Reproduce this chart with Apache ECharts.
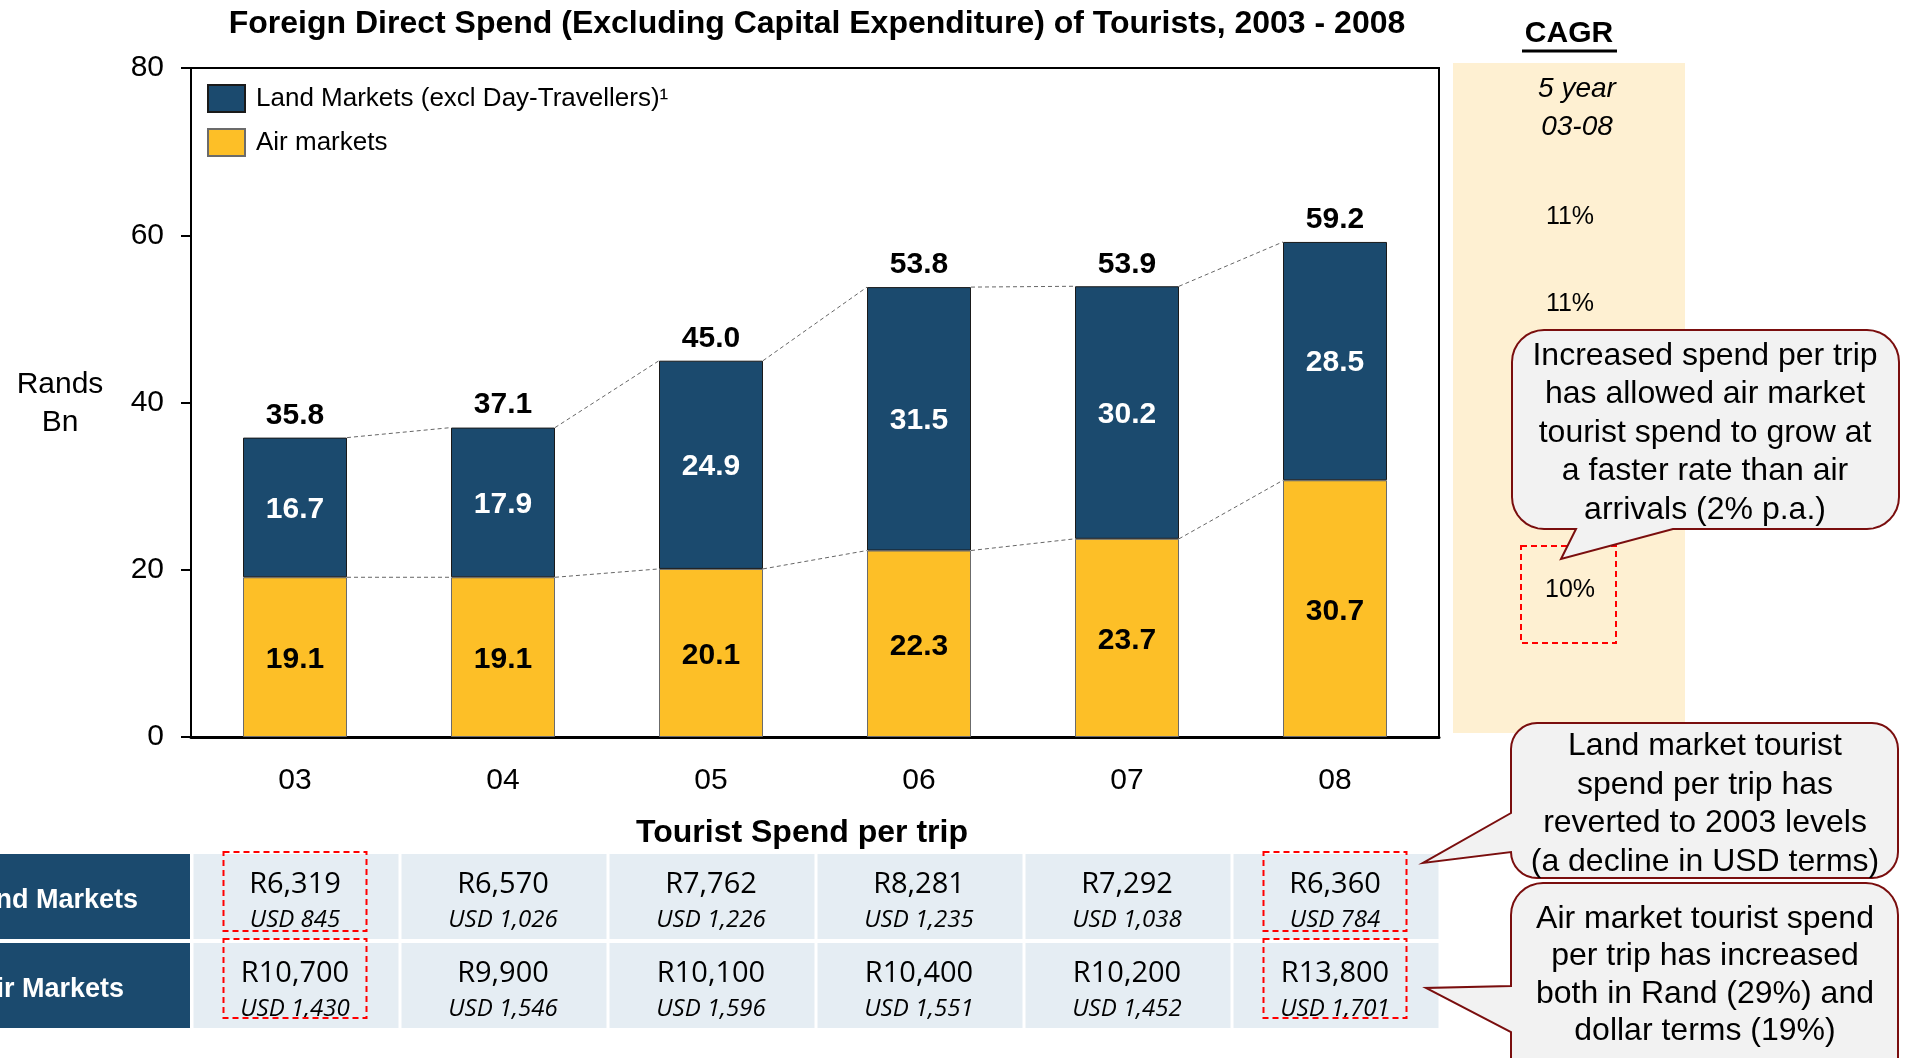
<!DOCTYPE html>
<html>
<head>
<meta charset="utf-8">
<title>Foreign Direct Spend of Tourists</title>
<script src="https://cdn.jsdelivr.net/npm/echarts@6/dist/echarts.min.js"></script>
<style>
  html, body { margin: 0; padding: 0; background: #fff; }
  #chart { width: 1912px; height: 1058px; }
</style>
</head>
<body>
<div id="chart"></div>
<script>
// chart data
const years = ['03', '04', '05', '06', '07', '08'];
const airMarkets = [19.1, 19.1, 20.1, 22.3, 23.7, 30.7];
const landMarkets = [16.7, 17.9, 24.9, 31.5, 30.2, 28.5];
const totals = [35.8, 37.1, 45.0, 53.8, 53.9, 59.2];

// tourist spend per trip table
const landRand = ['R6,319', 'R6,570', 'R7,762', 'R8,281', 'R7,292', 'R6,360'];
const landUsd = ['USD 845', 'USD 1,026', 'USD 1,226', 'USD 1,235', 'USD 1,038', 'USD 784'];
const airRand = ['R10,700', 'R9,900', 'R10,100', 'R10,400', 'R10,200', 'R13,800'];
const airUsd = ['USD 1,430', 'USD 1,546', 'USD 1,596', 'USD 1,551', 'USD 1,452', 'USD 1,701'];

// CAGR column (total, land, air)
const cagr = ['11%', '11%', '10%'];

const BLUE = '#1b4a6e';
const YELLOW = '#fdbf27';
const SANS = '"Liberation Sans", Arial, sans-serif';
const CELL = '"Open Sans", "Liberation Sans", sans-serif';
const LAND_NAME = 'Land Markets (excl Day-Travellers)\u00b9';
const AIR_NAME = 'Air markets';

const chart = echarts.init(document.getElementById('chart'));

const option = {
  animation: false,
  textStyle: { fontFamily: SANS },
  grid: {
    left: 191, top: 68, width: 1248, height: 669,
    show: true, borderColor: '#000', borderWidth: 2, backgroundColor: 'transparent'
  },
  legend: {
    left: 207, top: 84, padding: 0, orient: 'vertical', icon: 'rect',
    itemWidth: 37, itemHeight: 27, itemGap: 15,
    textStyle: { fontSize: 26, color: '#000', padding: [0, 0, 0, 6] },
    data: [LAND_NAME, AIR_NAME]
  },
  xAxis: {
    type: 'category',
    data: years,
    axisLine: { lineStyle: { color: '#000', width: 3 } },
    axisTick: { show: false },
    axisLabel: { fontSize: 30, color: '#000', margin: 29 }
  },
  yAxis: {
    type: 'value', min: 0, max: 80, interval: 20,
    axisLine: { show: true, lineStyle: { color: '#000', width: 2 } },
    axisTick: { show: true, length: 10, lineStyle: { color: '#000', width: 2 } },
    axisLabel: { fontSize: 30, color: '#000', margin: 27 },
    splitLine: { show: false }
  },
  series: [
    {
      name: AIR_NAME, type: 'bar', stack: 'spend', barWidth: '50%',
      itemStyle: { color: YELLOW, borderColor: '#6b6b6b', borderWidth: 1 },
      label: { show: true, position: 'inside', offset: [0, 3], fontSize: 30, fontWeight: 'bold', color: '#000',
        formatter: p => p.value.toFixed(1) },
      data: airMarkets, z: 3
    },
    {
      name: LAND_NAME, type: 'bar', stack: 'spend', barWidth: '50%',
      itemStyle: { color: BLUE, borderColor: '#1a1a1a', borderWidth: 1 },
      label: { show: true, position: 'inside', offset: [0, 2], fontSize: 30, fontWeight: 'bold', color: '#fff',
        formatter: p => p.value.toFixed(1) },
      data: landMarkets, z: 3
    },
    {
      // total above each stack
      type: 'custom', silent: true, z: 4,
      encode: { x: 0, y: 1 },
      data: years.map((y, i) => [i, totals[i]]),
      renderItem: function (params, api) {
        const i = params.dataIndex;
        const p = api.coord([i, totals[i]]);
        return {
          type: 'text',
          style: {
            text: totals[i].toFixed(1), x: p[0], y: p[1] - 22,
            fontSize: 30, fontWeight: 'bold', fontFamily: SANS, fill: '#000',
            align: 'center', verticalAlign: 'middle'
          }
        };
      }
    },
    {
      // dashed connectors between bar corners
      type: 'custom', silent: true, z: 2,
      encode: { x: 0, y: 1 },
      data: years.map((y, i) => [i, airMarkets[i]]),
      renderItem: function (params, api) {
        const i = params.dataIndex;
        if (i >= years.length - 1) return null;
        const bw = api.size([1, 0])[0] * 0.5;
        const pairs = [
          [airMarkets[i], airMarkets[i + 1]],
          [airMarkets[i] + landMarkets[i], airMarkets[i + 1] + landMarkets[i + 1]]
        ];
        return {
          type: 'group',
          children: pairs.map(pr => {
            const a = api.coord([i, pr[0]]);
            const b = api.coord([i + 1, pr[1]]);
            return {
              type: 'line',
              shape: { x1: a[0] + bw / 2, y1: a[1], x2: b[0] - bw / 2, y2: b[1] },
              style: { stroke: '#666', lineWidth: 1, lineDash: [4, 3] }
            };
          })
        };
      }
    }
  ]
};

chart.setOption(option);

// layout pieces built from the category axis positions
const centers = years.map(y => chart.convertToPixel({ xAxisIndex: 0 }, y));
const band = centers[1] - centers[0];

function txt(text, x, y, size, opts) {
  opts = opts || {};
  return {
    type: 'text', z: opts.z || 20,
    style: {
      text: text, x: x, y: y,
      fontSize: size, fontFamily: opts.family || SANS,
      fontWeight: opts.weight || 'normal', fontStyle: opts.style || 'normal',
      fill: opts.color || '#000', align: opts.align || 'center', verticalAlign: 'middle',
      lineHeight: opts.lineHeight
    }
  };
}

// rounded box outline as points; extra points are inserted on the bottom or left edge
function arc(cx, cy, r, a0, a1) {
  const pts = [];
  for (let k = 0; k <= 8; k++) {
    const a = (a0 + (a1 - a0) * k / 8) * Math.PI / 180;
    pts.push([cx + r * Math.cos(a), cy + r * Math.sin(a)]);
  }
  return pts;
}
function callout(x, y, w, h, r, bottomPts, leftPts) {
  let pts = [];
  pts = pts.concat(arc(x + r, y + r, r, 180, 270));
  pts = pts.concat(arc(x + w - r, y + r, r, 270, 360));
  pts = pts.concat(arc(x + w - r, y + h - r, r, 0, 90));
  pts = pts.concat(bottomPts || []);
  pts = pts.concat(arc(x + r, y + h - r, r, 90, 180));
  pts = pts.concat(leftPts || []);
  return {
    type: 'polygon', z: 25, shape: { points: pts },
    style: { fill: '#f2f2f2', stroke: '#7a0e0e', lineWidth: 2 }
  };
}

const g = [];

// title
g.push(txt('Foreign Direct Spend (Excluding Capital Expenditure) of Tourists, 2003 - 2008', 817, 24, 32, { weight: 'bold' }));
g.push(txt('Rands\nBn', 60, 404, 30, { lineHeight: 38 }));

// CAGR panel
g.push({ type: 'rect', z: 1, shape: { x: 1453, y: 63, width: 232, height: 670 }, style: { fill: '#fef0d2' } });
g.push(txt('CAGR', 1569, 34, 30, { weight: 'bold' }));
g.push({ type: 'line', z: 20, shape: { x1: 1522, y1: 51, x2: 1617, y2: 51 }, style: { stroke: '#000', lineWidth: 3 } });
g.push(txt('5 year\n03-08', 1577, 108, 28, { style: 'italic', lineHeight: 38 }));
g.push(txt(cagr[0], 1570, 217, 25));
g.push(txt(cagr[1], 1570, 304, 25));
g.push(txt(cagr[2], 1570, 590, 25));
g.push({ type: 'rect', z: 20, shape: { x: 1521, y: 546, width: 95, height: 97 },
  style: { fill: 'none', stroke: '#ff0000', lineWidth: 2, lineDash: [6, 4] } });

// callouts
g.push(callout(1512, 330, 387, 199, 32, [[1673, 529], [1561, 559], [1576, 529]], null));
g.push(txt('Increased spend per trip\nhas allowed air market\ntourist spend to grow at\na faster rate than air\narrivals (2% p.a.)',
  1705, 433, 32, { lineHeight: 38.5, z: 26 }));

g.push(callout(1511, 723, 387, 155, 26, null, [[1511, 852], [1423, 863], [1511, 813]]));
g.push(txt('Land market tourist\nspend per trip has\nreverted to 2003 levels\n(a decline in USD terms)',
  1705, 804, 32, { lineHeight: 38.5, z: 26 }));

g.push(callout(1511, 883, 387, 220, 32, null, [[1511, 1032], [1426, 988], [1511, 986]]));
g.push(txt('Air market tourist spend\nper trip has increased\nboth in Rand (29%) and\ndollar terms (19%)',
  1705, 975, 32, { lineHeight: 37.5, z: 26 }));

// tourist spend per trip table
g.push(txt('Tourist Spend per trip', 802, 833, 32, { weight: 'bold' }));
const rows = [
  { label: 'Land Markets', labelRight: 138, top: 854, rand: landRand, usd: landUsd },
  { label: 'Air Markets', labelRight: 124, top: 943, rand: airRand, usd: airUsd }
];
rows.forEach(r => {
  const h = 85;
  g.push({ type: 'rect', z: 5, shape: { x: -10, y: r.top, width: 200, height: h }, style: { fill: BLUE } });
  g.push(txt(r.label, r.labelRight, r.top + h / 2 + 4, 27, { weight: 'bold', color: '#fff', align: 'right', z: 6 }));
  centers.forEach((c, i) => {
    const x0 = c - band / 2 + 2.5;
    g.push({ type: 'rect', z: 5, shape: { x: x0, y: r.top, width: band - 3, height: h }, style: { fill: '#e5edf3' } });
    g.push(txt(r.rand[i], c, r.top + 31, 29, { family: CELL, z: 6 }));
    g.push(txt(r.usd[i], c, r.top + 66, 24, { family: CELL, style: 'italic', z: 6 }));
  });
});
// highlighted first and last columns
[0, years.length - 1].forEach(i => {
  const c = centers[i];
  [[852, 79], [939, 79]].forEach(b => {
    g.push({ type: 'rect', z: 7, shape: { x: c - 71.5, y: b[0], width: 143, height: b[1] },
      style: { fill: 'none', stroke: '#ff0000', lineWidth: 2, lineDash: [6, 4] } });
  });
});

chart.setOption({ graphic: g });
</script>
</body>
</html>
